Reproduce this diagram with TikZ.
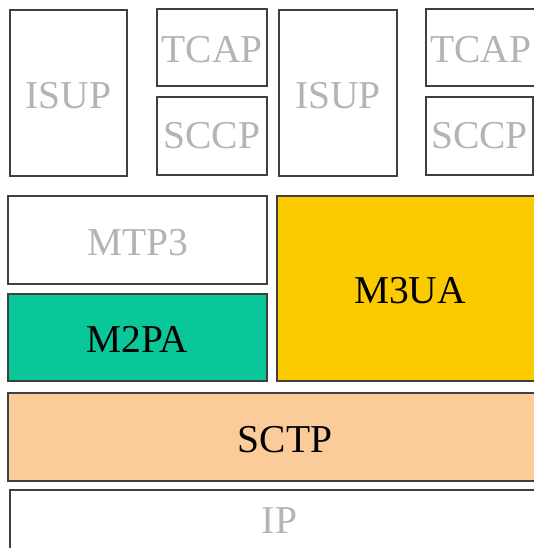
\documentclass[tikz,border=0pt]{standalone}
\usepackage{fontspec}
\setmainfont{Liberation Serif}
\definecolor{edge}{HTML}{404040}
\definecolor{greytext}{HTML}{B4B4B4}
\definecolor{tealfill}{HTML}{0AC799}
\definecolor{goldfill}{HTML}{FBCB00}
\definecolor{peachfill}{HTML}{FBCB99}
\begin{document}
\begin{tikzpicture}[x=1pt,y=1pt,
  layer/.style={draw=edge, line width=1.4pt, inner sep=0pt, outer sep=0pt,
    font=\fontsize{39.5}{39.5}\selectfont, fill=white, text=greytext,
    text height=30.8pt, text depth=0pt},
  active/.style={layer, text=black}]
\useasboundingbox (0,0) rectangle (534,-548);
\clip (0,0) rectangle (534,-548);
\node[layer, minimum width=117, minimum height=166] (isupa) at (68.5,-93) {ISUP};
\node[layer, minimum width=110, minimum height=77] (tcapa) at (212,-47.5) {TCAP};
\node[layer, minimum width=110, minimum height=78, text height=26pt] (sccpa) at (212,-136) {SCCP};
\node[layer, minimum width=118, minimum height=166] (isupb) at (338,-93) {ISUP};
\node[layer, minimum width=109, minimum height=77] (tcapb) at (480.5,-47.5) {TCAP};
\node[layer, minimum width=107, minimum height=78, text height=26pt] (sccpb) at (479.5,-136) {SCCP};
\node[layer, minimum width=259, minimum height=88] (mtp3) at (137.5,-240) {MTP3};
\node[active, fill=tealfill, minimum width=259, minimum height=87] (m2pa) at (137.5,-337.5) {M2PA};
\node[active, fill=goldfill, minimum width=266, minimum height=185] (m3ua) at (410,-288.5) {M3UA};
\node[active, fill=peachfill, minimum width=554, minimum height=88] (sctp) at (285,-437) {SCTP};
\node[layer, minimum width=539, minimum height=61, text height=26pt] (ip) at (279.5,-520.5) {IP};
\end{tikzpicture}
\end{document}
